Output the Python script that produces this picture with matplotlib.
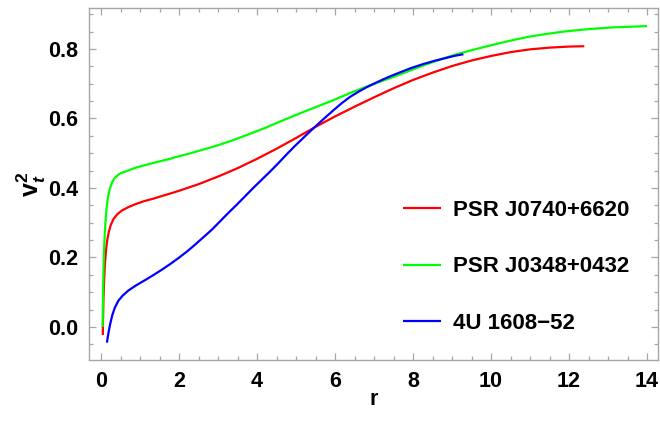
import matplotlib
matplotlib.use("Agg")
import matplotlib.pyplot as plt
from matplotlib.ticker import MultipleLocator

plt.rcParams['font.family'] = ['Liberation Sans', 'DejaVu Sans']
plt.rcParams['font.weight'] = 'bold'
plt.rcParams['mathtext.fontset'] = 'custom'
plt.rcParams['mathtext.rm'] = 'Liberation Sans:bold'
plt.rcParams['mathtext.it'] = 'Liberation Sans:bold:italic'
plt.rcParams['mathtext.bf'] = 'Liberation Sans:bold'

# Tangential velocity squared vs radius for three compact stars
labels = ["PSR J0740+6620", "PSR J0348+0432", "4U 1608\u221252"]
colors = ["#ff0000", "#00ff00", "#0000ff"]

r_j0740 = [0.044, 0.05, 0.06, 0.08, 0.10, 0.13, 0.16, 0.20, 0.25, 0.32, 0.42,
           0.53, 0.70, 0.87, 1.10, 1.33, 1.56, 1.80, 2.00, 2.50, 3.00, 3.50,
           4.00, 4.50, 5.00, 5.50, 6.00, 6.50, 7.00, 7.50, 8.00, 8.50, 9.00,
           9.50, 10.00, 10.50, 11.00, 11.50, 12.00, 12.39]
v_j0740 = [-0.023, 0.02, 0.08, 0.14, 0.184, 0.225, 0.252, 0.275, 0.294, 0.311,
           0.325, 0.335, 0.345, 0.353, 0.362, 0.369, 0.377, 0.385, 0.392, 0.411,
           0.433, 0.457, 0.484, 0.513, 0.544, 0.576, 0.606, 0.634, 0.661, 0.687,
           0.711, 0.732, 0.751, 0.767, 0.780, 0.791, 0.799, 0.804, 0.807, 0.808]

r_j0348 = [0.04, 0.045, 0.05, 0.06, 0.07, 0.085, 0.10, 0.12, 0.14, 0.16, 0.18,
           0.23, 0.29, 0.36, 0.45, 0.53, 0.62, 0.73, 0.85, 1.00, 1.13, 1.34,
           1.55, 1.77, 1.98, 2.26, 2.54, 2.97, 3.39, 3.82, 4.25, 4.67, 5.10,
           5.53, 5.96, 6.38, 6.81, 7.33, 7.67, 7.97, 8.27, 8.70, 9.12, 9.55,
           9.97, 10.27, 10.57, 11.00, 11.40, 11.85, 12.28, 12.70, 13.10, 13.55,
           14.00]
v_j0348 = [0.0, 0.05, 0.10, 0.16, 0.20, 0.245, 0.28, 0.315, 0.34, 0.36, 0.375,
           0.400, 0.418, 0.430, 0.439, 0.444, 0.447, 0.452, 0.457, 0.462, 0.466,
           0.472, 0.478, 0.484, 0.491, 0.499, 0.508, 0.522, 0.538, 0.556, 0.575,
           0.595, 0.615, 0.634, 0.653, 0.673, 0.692, 0.713, 0.727, 0.740, 0.753,
           0.770, 0.785, 0.798, 0.810, 0.818, 0.826, 0.836, 0.843, 0.850, 0.855,
           0.859, 0.862, 0.864, 0.866]

r_4u1608 = [0.15, 0.17, 0.20, 0.24, 0.29, 0.35, 0.44, 0.55, 0.70, 0.90, 1.13,
            1.35, 1.56, 1.77, 1.98, 2.20, 2.41, 2.62, 2.84, 3.05, 3.26, 3.48,
            3.69, 3.90, 4.12, 4.34, 4.55, 4.76, 4.97, 5.10, 5.35, 5.62, 5.80,
            5.96, 6.17, 6.38, 6.60, 6.81, 7.03, 7.24, 7.45, 7.67, 7.97, 8.27,
            8.55, 8.80, 9.05, 9.29]
v_4u1608 = [-0.045, -0.03, -0.01, 0.012, 0.035, 0.055, 0.075, 0.090, 0.105,
            0.120, 0.135, 0.150, 0.165, 0.181, 0.198, 0.217, 0.237, 0.258, 0.280,
            0.304, 0.328, 0.352, 0.376, 0.400, 0.424, 0.448, 0.472, 0.497, 0.521,
            0.535, 0.562, 0.590, 0.608, 0.624, 0.644, 0.662, 0.677, 0.690, 0.702,
            0.713, 0.723, 0.733, 0.746, 0.757, 0.766, 0.773, 0.780, 0.785]

series = [(r_j0740, v_j0740), (r_j0348, v_j0348), (r_4u1608, v_4u1608)]

fig = plt.figure(figsize=(6.6, 4.32), dpi=100)
ax = fig.add_axes([89/660, 72/432, 569/660, 352/432])

for (r, v), lab, c in zip(series, labels, colors):
    ax.plot(r, v, color=c, lw=1.6, label=lab, solid_capstyle='butt',
            solid_joinstyle='round')

ax.set_xlim(-0.31, 14.28)
ax.set_ylim(-0.095, 0.918)
ax.xaxis.set_major_locator(MultipleLocator(2))
ax.xaxis.set_minor_locator(MultipleLocator(0.5))
ax.yaxis.set_major_locator(MultipleLocator(0.2))
ax.yaxis.set_minor_locator(MultipleLocator(0.05))
ax.xaxis.set_major_formatter(plt.FuncFormatter(lambda x, p: f"{x:.0f}"))
ax.yaxis.set_major_formatter(plt.FuncFormatter(lambda y, p: f"{y:.1f}"))

frame_color = "#a6a6a6"
for s in ax.spines.values():
    s.set_color(frame_color)
    s.set_linewidth(1.0)
ax.tick_params(which='both', direction='in', top=True, right=True,
               color=frame_color, width=0.9, labelsize=15.5,
               labelcolor='black')
ax.tick_params(which='major', length=5, pad=8)
ax.tick_params(which='minor', length=3.2)
for t in ax.get_xticklabels() + ax.get_yticklabels():
    t.set_fontweight('bold')

ax.set_xlabel("r", fontsize=15.5, fontweight='bold', labelpad=-2)
ax.set_ylabel(r"$\mathrm{v}_{t}^{\mathrm{2}}$", fontsize=18, labelpad=0)

leg = ax.legend(loc='center left', bbox_to_anchor=(403/660, 1 - 267/432),
                bbox_transform=fig.transFigure, frameon=False,
                prop={'size': 16, 'weight': 'bold'}, handlelength=1.71,
                handletextpad=0.55, labelspacing=1.6, borderpad=0,
                borderaxespad=0)
for h in leg.get_lines():
    h.set_linewidth(1.6)

fig.savefig("out.png", dpi=100)
